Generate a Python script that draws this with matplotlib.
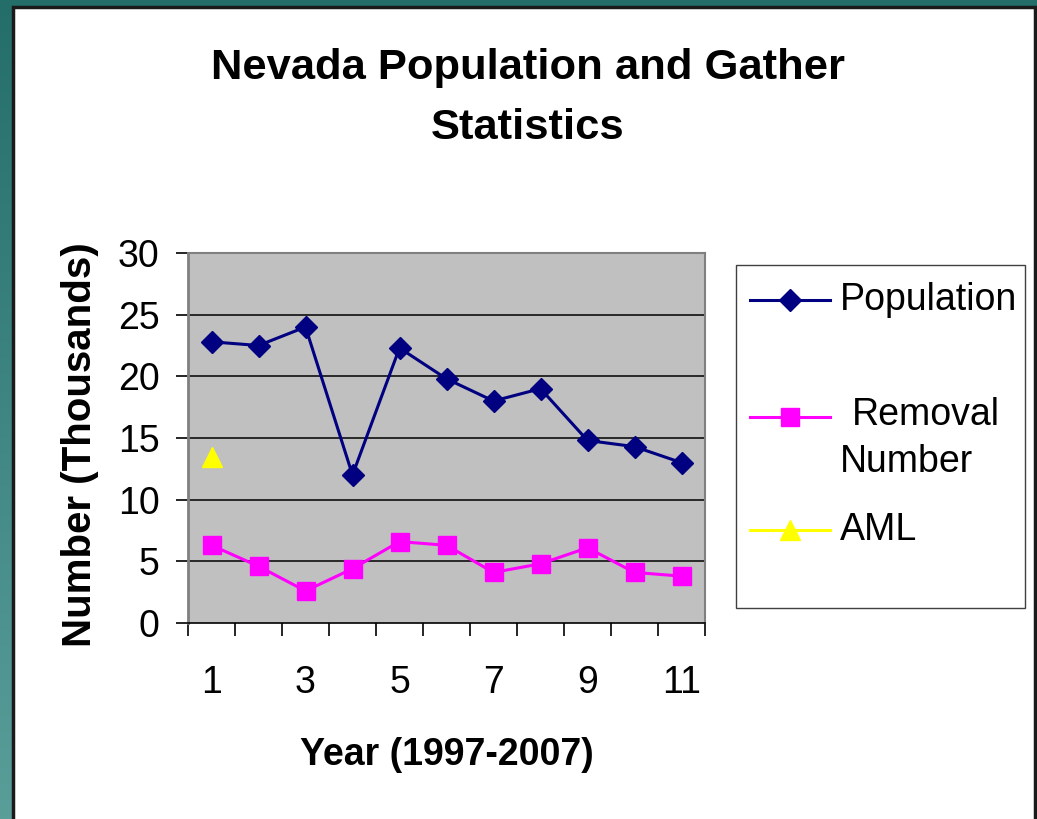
import numpy as np
import matplotlib.pyplot as plt
from matplotlib.patches import Rectangle
from matplotlib.lines import Line2D
from matplotlib.colors import LinearSegmentedColormap

plt.rcParams['font.family'] = ['Liberation Sans', 'DejaVu Sans']

# ---------------- data (thousands) ----------------
years = list(range(1, 12))
population = [22.8, 22.5, 24.0, 12.0, 22.3, 19.8, 18.0, 19.0, 14.8, 14.3, 13.0]
removals = [6.3, 4.6, 2.6, 4.4, 6.6, 6.3, 4.1, 4.8, 6.1, 4.1, 3.8]
aml_year = [1]
aml = [13.5]
y_ticks = [0, 5, 10, 15, 20, 25, 30]
x_labels = [1, 3, 5, 7, 9, 11]

W, H = 1037, 819
fig = plt.figure(figsize=(W / 100, H / 100), dpi=100)

# teal slide background with white panel
bg = fig.add_axes([0, 0, 1, 1], zorder=-10)
grad = np.linspace(0, 1, 256).reshape(-1, 1)
teal = LinearSegmentedColormap.from_list('teal', ['#246e6a', '#5a9e9a'])
bg.imshow(grad, aspect='auto', cmap=teal, extent=[0, 1, 0, 1])
bg.add_patch(Rectangle((13 / W, -0.05), (1035 - 13) / W, 1.05 - 7 / H,
                       facecolor='white', edgecolor='#1a1a1a', lw=2.5,
                       transform=bg.transAxes))
bg.set_xlim(0, 1)
bg.set_ylim(0, 1)
bg.axis('off')

# ---------------- main plot ----------------
ax = fig.add_axes([188 / W, 1 - 623 / H, (705 - 188) / W, (623 - 253) / H])
ax.set_facecolor('#c0c0c0')
ax.plot(years, population, color='#000080', lw=2.2, marker='D', ms=11)
ax.plot(years, removals, color='#ff00ff', lw=2.2, marker='s', ms=12.5)
ax.plot(aml_year, aml, color='#ffff00', lw=2.2, marker='^', ms=15, ls='none')

ax.set_xlim(0.5, 11.5)
ax.set_ylim(0, 30)
ax.set_yticks(y_ticks)
ax.set_yticklabels([str(v) for v in y_ticks], fontsize=27)
ax.set_xticks(x_labels)
ax.set_xticklabels([str(v) for v in x_labels], fontsize=27)
ax.set_xticks(np.arange(0.5, 12, 1), minor=True)
ax.tick_params(axis='x', which='major', length=0, pad=30)
ax.tick_params(axis='x', which='minor', length=9.5, width=1.2, direction='out')
ax.tick_params(axis='y', length=8.5, width=1.2, direction='out', pad=12)
for v in y_ticks[1:-1]:
    ax.axhline(v, color='black', lw=1.1, zorder=1)
for s in ['top', 'right']:
    ax.spines[s].set_color('#808080')
    ax.spines[s].set_linewidth(1.5)
ax.spines['left'].set_color('#808080')
ax.spines['left'].set_linewidth(2)
ax.spines['bottom'].set_color('black')
ax.spines['bottom'].set_linewidth(1.2)

# ---------------- titles ----------------
fig.text(528 / W, 1 - 68 / H, 'Nevada Population and Gather', ha='center', va='center',
         fontsize=31.3, fontweight='bold')
fig.text(528 / W, 1 - 128 / H, 'Statistics', ha='center', va='center',
         fontsize=31.3, fontweight='bold')
fig.text(447 / W, 1 - 755 / H, 'Year (1997-2007)', ha='center', va='center',
         fontsize=27, fontweight='bold')
fig.text(80 / W, 1 - 445 / H, 'Number (Thousands)', ha='center', va='center',
         fontsize=29, fontweight='bold', rotation=90)

# ---------------- legend ----------------
fig.patches.append(Rectangle((736 / W, 1 - 608 / H), (1025 - 736) / W, (608 - 265) / H,
                             facecolor='white', edgecolor='#404040', lw=1,
                             transform=fig.transFigure))
entries = [
    ('#000080', 'D', 11, 300, [(840, 300, 'Population')]),
    ('#ff00ff', 's', 12.5, 417, [(852, 415, 'Removal'), (840, 462, 'Number')]),
    ('#ffff00', '^', 15, 530, [(840, 530, 'AML')]),
]
for col, mk, ms, ly, texts in entries:
    fig.lines.append(Line2D([750 / W, 830 / W], [1 - ly / H, 1 - ly / H], color=col, lw=2.2,
                            transform=fig.transFigure))
    fig.lines.append(Line2D([790 / W], [1 - ly / H], color=col, marker=mk, ms=ms,
                            transform=fig.transFigure))
    for tx, ty, t in texts:
        fig.text(tx / W, 1 - ty / H, t, ha='left', va='center', fontsize=27)

fig.savefig('out.png', dpi=100)
